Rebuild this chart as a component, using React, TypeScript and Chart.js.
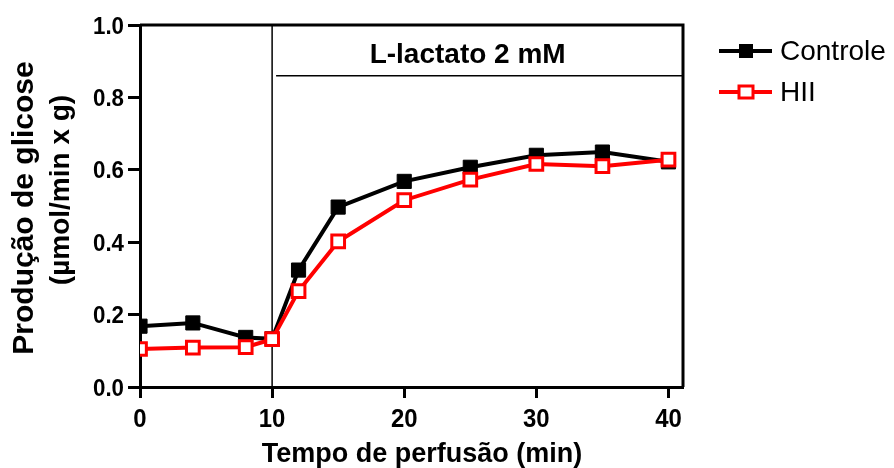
import React, { useEffect, useRef } from "react";
import { Chart, registerables } from "chart.js";

Chart.register(...registerables);

// ---- data ----
const timePoints = [0, 4, 8, 10, 12, 15, 20, 25, 30, 35, 40];
const controleValues = [0.168, 0.177, 0.137, 0.133, 0.323, 0.497, 0.568, 0.607, 0.640, 0.649, 0.622];
const hiiValues = [0.105, 0.109, 0.110, 0.132, 0.265, 0.402, 0.516, 0.573, 0.616, 0.610, 0.628];
const xTickValues = [0, 10, 20, 30, 40];
const yTickValues = [0, 0.2, 0.4, 0.6, 0.8, 1.0];
const seriesNames = ["Controle", "HII"];
const xAxisTitle = "Tempo de perfusão (min)";
const yAxisTitleLines = ["Produção de glicose", "(µmol/min x g)"];
const lactateStart = 10;
const lactateBarLevel = 0.86;
const lactateLabelCenter = 24.8;
const lactateLabel = "L-lactato 2 mM";

const FONT = "'Liberation Sans', Arial, Helvetica, sans-serif";

function drawScaled(ctx: any, text: string, x: number, y: number, sx: number, align: string, baseline: string) {
  ctx.save();
  ctx.translate(x, y);
  ctx.scale(sx, 1);
  ctx.textAlign = align;
  ctx.textBaseline = baseline;
  ctx.fillText(text, 0, 0);
  ctx.restore();
}

const framePlugin = {
  id: "framePlugin",
  beforeDatasetsDraw(chart: any) {
    const { ctx, chartArea, scales } = chart;
    const xs = scales.x;
    const ys = scales.y;
    ctx.save();
    ctx.strokeStyle = "#000";
    ctx.lineWidth = 1.5;
    const vx = xs.getPixelForValue(lactateStart);
    ctx.beginPath();
    ctx.moveTo(vx, chartArea.top);
    ctx.lineTo(vx, chartArea.bottom);
    ctx.stroke();
    const hy = ys.getPixelForValue(lactateBarLevel);
    ctx.beginPath();
    ctx.moveTo(xs.getPixelForValue(lactateStart + 0.3), hy);
    ctx.lineTo(chartArea.right, hy);
    ctx.stroke();
    ctx.restore();
  },
  afterDraw(chart: any) {
    const { ctx, chartArea, scales } = chart;
    const xs = scales.x;
    const ys = scales.y;
    ctx.save();
    // frame
    ctx.strokeStyle = "#000";
    ctx.lineWidth = 3;
    ctx.beginPath();
    ctx.moveTo(chartArea.left, chartArea.top);
    ctx.lineTo(chartArea.right, chartArea.top);
    ctx.lineTo(chartArea.right, chartArea.bottom);
    ctx.stroke();

    ctx.fillStyle = "#000";
    // tick labels
    ctx.font = `bold 26px ${FONT}`;
    xTickValues.forEach((v) => {
      drawScaled(ctx, String(v), xs.getPixelForValue(v), 427, 0.92, "center", "alphabetic");
    });
    ctx.font = `bold 24px ${FONT}`;
    yTickValues.forEach((v) => {
      drawScaled(ctx, v.toFixed(1), 124, ys.getPixelForValue(v) + 8.5, 0.93, "right", "alphabetic");
    });

    // annotation label
    ctx.font = `bold 28px ${FONT}`;
    ctx.textAlign = "center";
    ctx.textBaseline = "alphabetic";
    ctx.fillText(lactateLabel, xs.getPixelForValue(lactateLabelCenter), 63);

    // x title
    ctx.font = `bold 27px ${FONT}`;
    ctx.fillText(xAxisTitle, 422, 462);

    // y title
    ctx.save();
    ctx.translate(33, 208);
    ctx.rotate(-Math.PI / 2);
    ctx.font = `bold 30px ${FONT}`;
    ctx.fillText(yAxisTitleLines[0], 0, 0);
    ctx.restore();
    ctx.save();
    ctx.translate(69, 190);
    ctx.rotate(-Math.PI / 2);
    ctx.font = `bold 28px ${FONT}`;
    ctx.fillText(yAxisTitleLines[1], 0, 0);
    ctx.restore();

    // legend
    const ds = chart.data.datasets;
    const order = [1, 0];
    const legendY = [51, 92];
    order.forEach((di, i) => {
      const d = ds[di];
      const y = legendY[i];
      ctx.strokeStyle = d.borderColor;
      ctx.lineWidth = 4;
      ctx.beginPath();
      ctx.moveTo(719, y);
      ctx.lineTo(772, y);
      ctx.stroke();
      if (di === 1) {
        ctx.fillStyle = "#000";
        ctx.fillRect(739, y - 7, 14, 14);
      } else {
        ctx.fillStyle = "#fff";
        ctx.fillRect(739, y - 6, 14, 12);
        ctx.lineWidth = 3;
        ctx.strokeStyle = "#ff0000";
        ctx.strokeRect(739, y - 6, 14, 12);
      }
      ctx.fillStyle = "#000";
      ctx.font = `28px ${FONT}`;
      ctx.textAlign = "left";
      ctx.textBaseline = "middle";
      ctx.fillText(d.label, 780, y + 1);
    });
    ctx.restore();
  },
};

function App() {
  const ref = useRef<HTMLCanvasElement>(null);
  useEffect(() => {
    if (!ref.current) return;
    const chart = new Chart(ref.current, {
      type: "line",
      data: {
        datasets: [
          {
            label: seriesNames[1],
            data: timePoints.map((t, i) => ({ x: t, y: hiiValues[i] })),
            borderColor: "#ff0000",
            backgroundColor: "#ffffff",
            borderWidth: 4,
            pointStyle: "rect",
            pointRadius: 9,
            pointBorderWidth: 3,
            pointBorderColor: "#ff0000",
            pointBackgroundColor: "#ffffff",
          },
          {
            label: seriesNames[0],
            data: timePoints.map((t, i) => ({ x: t, y: controleValues[i] })),
            borderColor: "#000000",
            backgroundColor: "#000000",
            borderWidth: 4,
            pointStyle: "rect",
            pointRadius: 10,
            pointBorderWidth: 1,
            pointBorderColor: "#000000",
            pointBackgroundColor: "#000000",
          },
        ],
      },
      options: {
        responsive: false,
        animation: false,
        layout: { padding: { top: 25, right: 211, left: 0, bottom: 0 } },
        plugins: { legend: { display: false }, tooltip: { enabled: false } },
        scales: {
          x: {
            type: "linear",
            min: 0,
            max: 41.1,
            afterFit: (s: any) => { s.height = 81; },
            afterBuildTicks: (s: any) => { s.ticks = xTickValues.map((v) => ({ value: v })); },
            ticks: { display: false },
            grid: { drawOnChartArea: false, drawTicks: true, tickLength: 11, tickWidth: 3, tickColor: "#000" },
            border: { display: true, color: "#000", width: 3 },
          },
          y: {
            type: "linear",
            min: 0,
            max: 1,
            afterFit: (s: any) => { s.width = 140; },
            afterBuildTicks: (s: any) => { s.ticks = yTickValues.map((v) => ({ value: v })); },
            ticks: { display: false },
            grid: { drawOnChartArea: false, drawTicks: true, tickLength: 12, tickWidth: 3, tickColor: "#000" },
            border: { display: true, color: "#000", width: 3 },
          },
        },
      },
      plugins: [framePlugin],
    } as any);
    return () => chart.destroy();
  }, []);
  return (
    <div style={{ position: "absolute", left: 0, top: 0, width: 894, height: 468, background: "#fff" }}>
      <canvas ref={ref} width={894} height={468} style={{ display: "block" }} />
    </div>
  );
}

export default App;
